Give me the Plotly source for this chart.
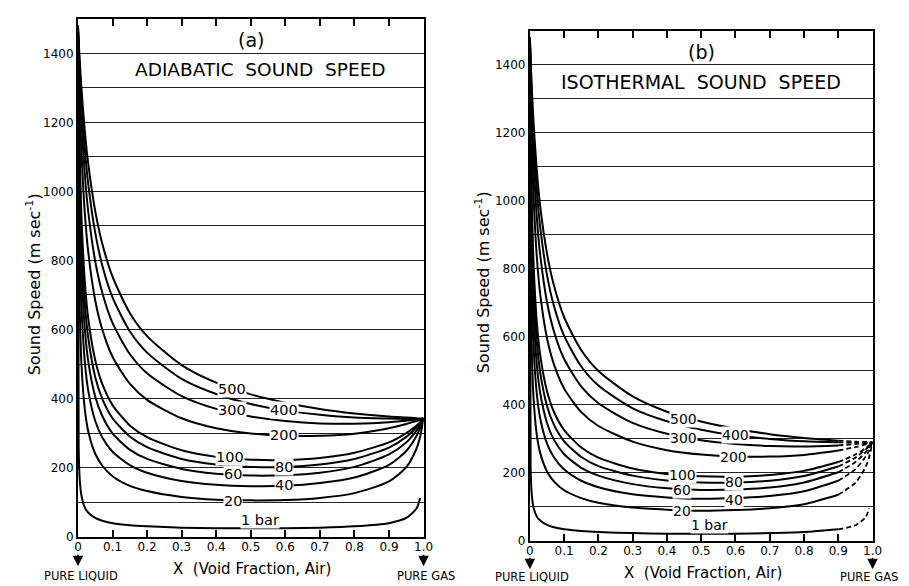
import plotly.graph_objects as go

# ---------------- data ----------------
X_VOID = [0, 0.002, 0.005, 0.01, 0.02, 0.03, 0.05, 0.07, 0.1, 0.15, 0.2,
          0.3, 0.4, 0.5, 0.6, 0.7, 0.8, 0.9, 0.95, 0.98, 0.99, 1.0]

PRESSURES = ["1 bar", "20", "40", "60", "80", "100", "200", "300", "400", "500"]

ADIABATIC = {
    "1 bar": [1480, 261, 167, 119, 84, 69, 54, 46, 39, 33, 30, 26, 24, 24, 24, 26, 30, 39, 54, 82, 112, None],
    "20":  [1480, 925, 670, 501, 367, 304, 240, 206, 175, 147, 132, 115, 107, 105, 106, 112, 126, 160, 201, 256, 289, 342],
    "40":  [1480, 1110, 864, 672, 504, 421, 335, 288, 246, 207, 185, 161, 150, 146, 147, 155, 171, 208, 248, 292, 314, 342],
    "60":  [1480, 1202, 978, 784, 600, 506, 405, 350, 299, 252, 225, 196, 182, 177, 178, 185, 202, 238, 273, 308, 323, 342],
    "80":  [1480, 1257, 1056, 866, 675, 574, 462, 400, 343, 290, 259, 225, 209, 202, 202, 209, 225, 258, 289, 317, 328, 342],
    "100": [1480, 1294, 1113, 930, 737, 630, 511, 443, 381, 322, 288, 250, 231, 223, 222, 228, 243, 273, 300, 322, 331, 342],
    "200": [1480, 1378, 1259, 1116, 935, 822, 684, 601, 521, 443, 396, 343, 314, 299, 292, 292, 298, 314, 326, 335, 338, 342],
    "300": [1480, 1410, 1323, 1208, 1047, 939, 797, 708, 619, 529, 473, 407, 370, 348, 335, 328, 327, 331, 336, 339, 340, 342],
    "400": [1480, 1427, 1358, 1263, 1121, 1019, 880, 787, 693, 595, 533, 457, 413, 384, 365, 353, 345, 342, 341, 341, 341, 342],
    "500": [1480, 1438, 1381, 1299, 1173, 1078, 943, 850, 753, 648, 581, 497, 446, 412, 388, 370, 357, 348, 345, 343, 342, 342],
}

ISOTHERMAL = {
    "1 bar": [1480, 221, 141, 100, 71, 59, 46, 39, 33, 28, 25, 22, 20, 20, 20, 22, 25, 33, 45, 69, 95, None],
    "20":  [1480, 830, 583, 430, 312, 258, 203, 174, 148, 125, 111, 97, 91, 88, 90, 95, 107, 135, 170, 217, 245, 289],
    "40":  [1480, 1024, 768, 585, 433, 360, 285, 245, 209, 176, 157, 136, 127, 123, 125, 131, 145, 176, 210, 247, 265, 289],
    "60":  [1480, 1127, 883, 690, 519, 435, 346, 297, 254, 214, 191, 166, 154, 149, 150, 156, 171, 201, 231, 260, 273, 289],
    "80":  [1480, 1192, 965, 770, 588, 495, 396, 341, 292, 246, 219, 191, 177, 171, 171, 176, 190, 218, 244, 268, 277, 289],
    "100": [1480, 1236, 1026, 834, 645, 546, 439, 379, 325, 274, 244, 212, 196, 189, 188, 193, 205, 231, 253, 272, 280, 289],
    "200": [1480, 1343, 1194, 1029, 838, 726, 595, 519, 447, 378, 337, 291, 266, 253, 247, 247, 252, 265, 275, 283, 286, 289],
    "300": [1480, 1385, 1271, 1132, 954, 841, 701, 616, 534, 453, 404, 346, 314, 295, 284, 278, 277, 280, 284, 287, 288, 289],
    "400": [1480, 1407, 1316, 1197, 1033, 923, 781, 691, 602, 512, 456, 389, 351, 326, 309, 299, 292, 289, 288, 288, 289, 289],
    "500": [1480, 1421, 1345, 1241, 1091, 985, 844, 751, 657, 560, 499, 424, 379, 350, 329, 313, 302, 294, 291, 290, 289, 289],
}
DASH_FROM_X = 0.9   # isothermal curves drawn dashed beyond this void fraction

# curve label positions (void fraction, speed)
LABELS_A = {"500": (0.445, 427), "300": (0.445, 367), "400": (0.597, 367), "200": (0.597, 295),
            "100": (0.44, 232), "80": (0.597, 203), "60": (0.45, 180), "40": (0.597, 149),
            "20": (0.45, 103), "1 bar": (0.527, 49)}
LABELS_B = {"500": (0.448, 359), "300": (0.448, 301), "400": (0.60, 310), "200": (0.595, 246),
            "100": (0.445, 193), "80": (0.595, 171), "60": (0.445, 150), "40": (0.595, 119),
            "20": (0.443, 87), "1 bar": (0.523, 46)}

X_TICKS = [0, 0.1, 0.2, 0.3, 0.4, 0.5, 0.6, 0.7, 0.8, 0.9, 1.0]
X_TICK_TEXT = ["0", "0.1", "0.2", "0.3", "0.4", "0.5", "0.6", "0.7", "0.8", "0.9", "1.0"]
Y_TICKS = [0, 200, 400, 600, 800, 1000, 1200, 1400]

# ---------------- figure ----------------
W, H = 909, 586
FONT = "DejaVu Sans"
fig = go.Figure()

LINE = dict(color="black", width=2, shape="spline", smoothing=0.7)

for p in PRESSURES:
    fig.add_trace(go.Scatter(x=X_VOID, y=ADIABATIC[p], mode="lines", line=LINE,
                             xaxis="x", yaxis="y", showlegend=False, hoverinfo="skip"))
for p in PRESSURES:
    xs_solid = [x for x in X_VOID if x <= DASH_FROM_X]
    ys_solid = [y for x, y in zip(X_VOID, ISOTHERMAL[p]) if x <= DASH_FROM_X]
    xs_dash = [x for x in X_VOID if x >= DASH_FROM_X]
    ys_dash = [y for x, y in zip(X_VOID, ISOTHERMAL[p]) if x >= DASH_FROM_X]
    fig.add_trace(go.Scatter(x=xs_solid, y=ys_solid, mode="lines", line=LINE,
                             xaxis="x2", yaxis="y2", showlegend=False, hoverinfo="skip"))
    fig.add_trace(go.Scatter(x=xs_dash, y=ys_dash, mode="lines",
                             line=dict(color="black", width=1.8, dash="5px,3px", shape="spline", smoothing=0.7),
                             xaxis="x2", yaxis="y2", showlegend=False, hoverinfo="skip"))


def xaxis_cfg(domain, anchor):
    return dict(domain=domain, anchor=anchor, range=[0, 1], tickvals=X_TICKS, ticktext=X_TICK_TEXT,
                ticks="inside", ticklen=7, tickwidth=1.5, tickcolor="black", mirror="ticks",
                showline=True, linewidth=2, linecolor="black", showgrid=False, zeroline=False,
                ticklabelstandoff=-2,
                tickfont=dict(family=FONT, size=12, color="black"), fixedrange=True)


def yaxis_cfg(domain, anchor):
    return dict(domain=domain, anchor=anchor, range=[0, 1500], tickvals=Y_TICKS, ticks="",
                showline=True, mirror=True, linewidth=2, linecolor="black",
                showgrid=True, gridcolor="#222222", gridwidth=1.3, zeroline=False,
                minor=dict(dtick=100, showgrid=True, gridcolor="#222222", gridwidth=1.3),
                tickfont=dict(family=FONT, size=12, color="black"), fixedrange=True)


fig.update_layout(
    width=W, height=H, margin=dict(l=0, r=0, t=0, b=0),
    paper_bgcolor="white", plot_bgcolor="white",
    xaxis=xaxis_cfg([67 / W, 418 / W], "y"),
    yaxis=yaxis_cfg([51 / H, 575 / H], "x"),
    xaxis2=xaxis_cfg([526 / W, 874 / W], "y2"),
    yaxis2=yaxis_cfg([47 / H, 563 / H], "x2"),
    font=dict(family=FONT, color="black"),
)

ann = []
for lab, (lx, ly) in LABELS_A.items():
    ann.append(dict(x=lx, y=ly, xref="x", yref="y", text=lab, showarrow=False,
                    bgcolor="white", borderpad=0, font=dict(size=14.5, family=FONT)))
for lab, (lx, ly) in LABELS_B.items():
    ann.append(dict(x=lx, y=ly, xref="x2", yref="y2", text=lab, showarrow=False,
                    bgcolor="white", borderpad=0, font=dict(size=14, family=FONT)))


def px(x, y):
    return x / W, 1 - y / H


def paper_text(text, x, y, size, angle=0):
    xx, yy = px(x, y)
    ann.append(dict(x=xx, y=yy, xref="paper", yref="paper", text=text, showarrow=False,
                    xanchor="center", yanchor="middle",
                    textangle=angle, font=dict(size=size, family=FONT)))


# panel titles
ann.append(dict(x=0.50, y=1438, xref="x", yref="y", text="(a)", showarrow=False,
                font=dict(size=19, family=FONT)))
ann.append(dict(x=0.527, y=1352, xref="x", yref="y", text="ADIABATIC&nbsp;&nbsp;SOUND&nbsp;&nbsp;SPEED",
                showarrow=False, font=dict(size=18.5, family=FONT)))
ann.append(dict(x=0.50, y=1438, xref="x2", yref="y2", text="(b)", showarrow=False,
                font=dict(size=19, family=FONT)))
ann.append(dict(x=0.50, y=1348, xref="x2", yref="y2", text="ISOTHERMAL&nbsp;&nbsp;SOUND&nbsp;&nbsp;SPEED",
                showarrow=False, font=dict(size=19, family=FONT)))

# axis titles
ytitle = "Sound Speed (m sec<sup>-1</sup>)"
paper_text(ytitle, 22, 280, 16, -90)
paper_text(ytitle, 478, 278, 16, -90)
paper_text("X&nbsp;&nbsp;(Void Fraction, Air)", 244, 568, 15)
paper_text("X&nbsp;&nbsp;(Void Fraction, Air)", 702, 572, 15)

# end-member labels
paper_text("PURE LIQUID", 70, 575, 11.5)
paper_text("PURE GAS", 420, 575, 11.5)
paper_text("PURE LIQUID", 528, 576, 11.5)
paper_text("PURE GAS", 870, 576, 11.5)

# arrows under x = 0 and x = 1
for xref, tip_y in (("x", 565), ("x2", 568)):
    for xv in (0, 1):
        ann.append(dict(x=xv, y=1 - tip_y / H, xref=xref, yref="paper", text="", showarrow=True,
                        ax=0, ay=-13, arrowhead=2, arrowsize=1.4, arrowwidth=1.5, arrowcolor="black"))

fig.update_layout(annotations=ann)
fig.write_html("out.html")
